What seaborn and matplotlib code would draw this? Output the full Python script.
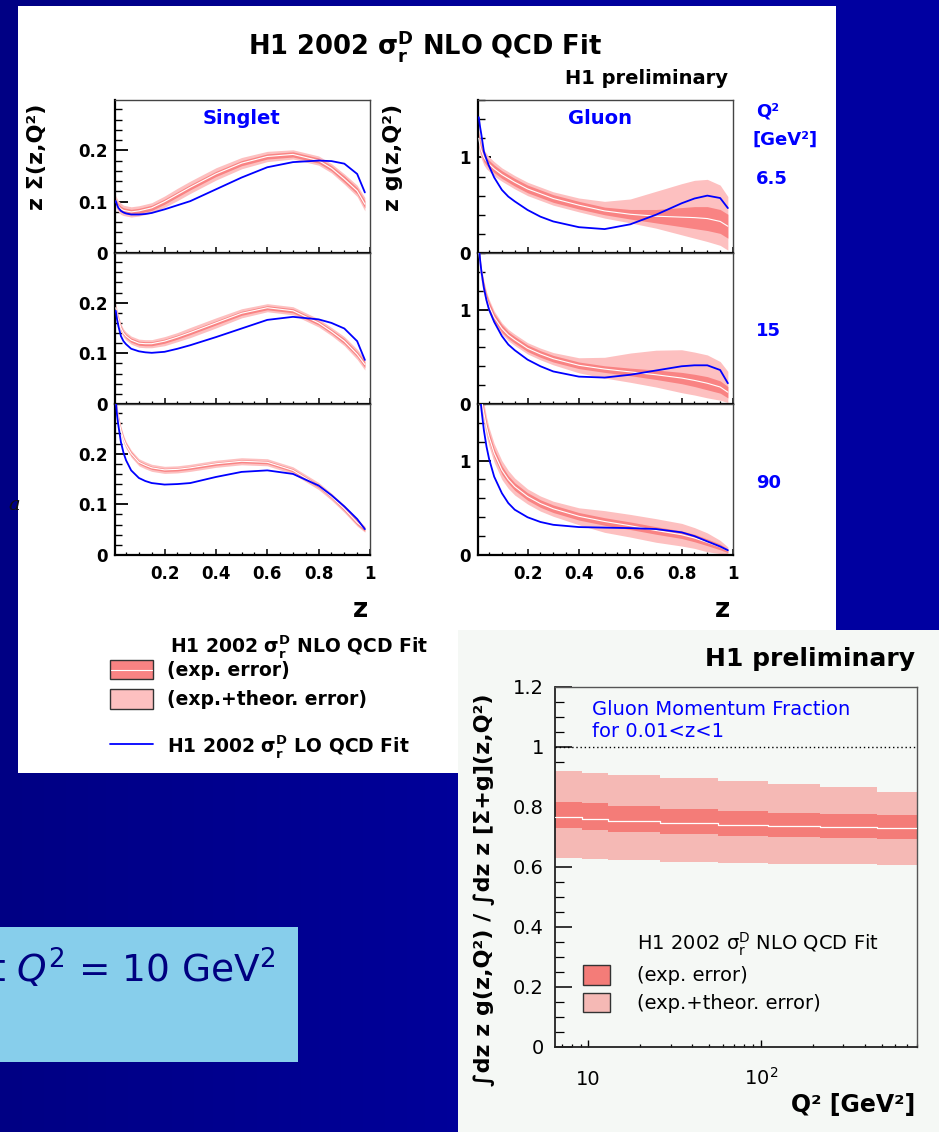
import numpy as np
import matplotlib
matplotlib.use("Agg")
import matplotlib.pyplot as plt
from matplotlib.patches import Rectangle
from matplotlib.lines import Line2D
from matplotlib.colors import LinearSegmentedColormap
from matplotlib.ticker import (MultipleLocator, FixedLocator, FixedFormatter,
                               NullFormatter, LogLocator, FuncFormatter)
import seaborn as sns

sns.set_style("ticks")
plt.rcParams['font.family'] = ['DejaVu Sans']
plt.rcParams['mathtext.fontset'] = 'dejavusans'
plt.rcParams['text.color'] = 'black'
plt.rcParams['axes.labelcolor'] = 'black'
plt.rcParams['xtick.color'] = 'black'
plt.rcParams['ytick.color'] = 'black'
plt.rcParams['axes.edgecolor'] = 'black'

W, H = 939, 1132

# ---------------- data ----------------
Z = [0.01, 0.015, 0.02, 0.03, 0.04, 0.05, 0.07, 0.1, 0.125, 0.15, 0.2, 0.25, 0.3,
     0.4, 0.5, 0.6, 0.7, 0.8, 0.85, 0.9, 0.95, 0.98]
Q2_LABELS = ["6.5", "15", "90"]

# Singlet z*Sigma(z,Q2)
SIG_NLO_6 = [0.101, 0.095, 0.091, 0.086, 0.083, 0.082, 0.080, 0.082, 0.085, 0.088, 0.100, 0.114, 0.128,
             0.154, 0.175, 0.188, 0.192, 0.180, 0.165, 0.144, 0.121, 0.095]
SIG_LO_6 = [0.101, 0.094, 0.088, 0.082, 0.079, 0.077, 0.075, 0.075, 0.076, 0.078, 0.085, 0.093, 0.101,
            0.124, 0.147, 0.167, 0.177, 0.180, 0.179, 0.174, 0.154, 0.118]
SIG_EXP_6 = [0.005, 0.005, 0.005, 0.005, 0.005, 0.005, 0.005, 0.005, 0.005, 0.005, 0.005, 0.005, 0.005,
             0.005, 0.005, 0.005, 0.005, 0.005, 0.005, 0.006, 0.006, 0.007]
SIG_TOT_6 = [0.011, 0.011, 0.011, 0.011, 0.010, 0.010, 0.010, 0.010, 0.010, 0.010, 0.011, 0.012, 0.012,
             0.012, 0.011, 0.010, 0.009, 0.009, 0.009, 0.010, 0.011, 0.013]

SIG_NLO_15 = [0.190, 0.177, 0.167, 0.150, 0.140, 0.134, 0.126, 0.120, 0.119, 0.119, 0.124, 0.132, 0.141,
              0.160, 0.179, 0.190, 0.184, 0.160, 0.143, 0.124, 0.098, 0.078]
SIG_LO_15 = [0.184, 0.167, 0.154, 0.134, 0.124, 0.118, 0.109, 0.104, 0.102, 0.101, 0.103, 0.109, 0.116,
             0.132, 0.149, 0.166, 0.172, 0.167, 0.160, 0.149, 0.124, 0.087]
SIG_EXP_15 = [0.004, 0.004, 0.004, 0.004, 0.004, 0.004, 0.004, 0.004, 0.004, 0.004, 0.004, 0.004, 0.004,
              0.004, 0.004, 0.004, 0.004, 0.004, 0.004, 0.005, 0.005, 0.006]
SIG_TOT_15 = [0.009, 0.009, 0.009, 0.008, 0.008, 0.008, 0.008, 0.008, 0.008, 0.008, 0.009, 0.009, 0.010,
              0.010, 0.009, 0.008, 0.008, 0.008, 0.008, 0.009, 0.010, 0.011]

SIG_NLO_90 = [0.305, 0.285, 0.270, 0.246, 0.229, 0.217, 0.200, 0.183, 0.177, 0.172, 0.168, 0.169, 0.172,
              0.180, 0.185, 0.183, 0.167, 0.136, 0.115, 0.091, 0.064, 0.051]
SIG_LO_90 = [0.305, 0.276, 0.256, 0.223, 0.202, 0.187, 0.167, 0.152, 0.146, 0.142, 0.139, 0.140, 0.142,
             0.154, 0.164, 0.167, 0.160, 0.137, 0.118, 0.096, 0.071, 0.051]
SIG_EXP_90 = [0.004, 0.004, 0.004, 0.004, 0.004, 0.004, 0.004, 0.003, 0.003, 0.003, 0.003, 0.003, 0.003,
              0.003, 0.003, 0.003, 0.003, 0.003, 0.003, 0.004, 0.004, 0.004]
SIG_TOT_90 = [0.008, 0.008, 0.008, 0.008, 0.008, 0.007, 0.007, 0.007, 0.007, 0.007, 0.007, 0.007, 0.007,
              0.007, 0.007, 0.007, 0.007, 0.007, 0.007, 0.007, 0.007, 0.006]

# Gluon z*g(z,Q2)
GLU_NLO_6 = [1.20, 1.12, 1.07, 1.00, 0.96, 0.93, 0.88, 0.82, 0.78, 0.74, 0.67, 0.62, 0.57,
             0.50, 0.44, 0.405, 0.385, 0.375, 0.37, 0.36, 0.33, 0.28]
GLU_LO_6 = [1.42, 1.32, 1.24, 1.06, 0.98, 0.91, 0.79, 0.66, 0.59, 0.54, 0.45, 0.38, 0.33,
            0.27, 0.25, 0.30, 0.40, 0.52, 0.57, 0.60, 0.575, 0.47]
GLU_EXP_6 = [0.05, 0.05, 0.045, 0.045, 0.04, 0.04, 0.04, 0.04, 0.04, 0.04, 0.04, 0.04, 0.04,
             0.04, 0.04, 0.05, 0.07, 0.10, 0.115, 0.125, 0.125, 0.125]
GLU_TOT_UP_6 = [0.09, 0.09, 0.085, 0.08, 0.08, 0.075, 0.075, 0.07, 0.07, 0.07, 0.07, 0.07, 0.07,
                0.075, 0.10, 0.16, 0.26, 0.35, 0.39, 0.41, 0.38, 0.31]
GLU_TOT_DN_6 = [0.09, 0.09, 0.085, 0.08, 0.08, 0.075, 0.075, 0.07, 0.07, 0.07, 0.07, 0.07, 0.07,
                0.07, 0.075, 0.09, 0.125, 0.185, 0.215, 0.24, 0.25, 0.25]

GLU_NLO_15 = [1.62, 1.48, 1.37, 1.23, 1.12, 1.04, 0.92, 0.80, 0.73, 0.68, 0.59, 0.53, 0.48,
              0.41, 0.37, 0.34, 0.31, 0.275, 0.25, 0.22, 0.18, 0.125]
GLU_LO_15 = [1.70, 1.53, 1.41, 1.23, 1.10, 1.00, 0.87, 0.72, 0.63, 0.57, 0.47, 0.40, 0.345,
             0.29, 0.28, 0.31, 0.355, 0.40, 0.41, 0.41, 0.36, 0.22]
GLU_EXP_15 = [0.06, 0.055, 0.05, 0.05, 0.045, 0.045, 0.04, 0.04, 0.035, 0.035, 0.035, 0.035, 0.035,
              0.035, 0.035, 0.04, 0.05, 0.06, 0.065, 0.07, 0.065, 0.06]
GLU_TOT_UP_15 = [0.09, 0.085, 0.08, 0.075, 0.07, 0.07, 0.065, 0.06, 0.06, 0.06, 0.06, 0.062, 0.065,
                 0.08, 0.125, 0.20, 0.26, 0.30, 0.30, 0.30, 0.27, 0.22]
GLU_TOT_DN_15 = [0.09, 0.085, 0.08, 0.075, 0.07, 0.07, 0.065, 0.06, 0.06, 0.06, 0.06, 0.062, 0.065,
                 0.08, 0.095, 0.11, 0.13, 0.155, 0.155, 0.155, 0.14, 0.11]

GLU_NLO_90 = [1.90, 1.75, 1.65, 1.50, 1.36, 1.25, 1.08, 0.90, 0.80, 0.725, 0.62, 0.545, 0.49,
              0.41, 0.355, 0.31, 0.26, 0.215, 0.18, 0.134, 0.085, 0.045]
GLU_LO_90 = [1.90, 1.70, 1.55, 1.32, 1.15, 1.02, 0.83, 0.655, 0.55, 0.48, 0.40, 0.35, 0.32,
             0.296, 0.29, 0.285, 0.275, 0.24, 0.20, 0.144, 0.09, 0.05]
GLU_EXP_90 = [0.06, 0.06, 0.055, 0.05, 0.05, 0.05, 0.045, 0.045, 0.04, 0.04, 0.04, 0.04, 0.04,
              0.04, 0.04, 0.04, 0.04, 0.04, 0.04, 0.035, 0.03, 0.02]
GLU_TOT_UP_90 = [0.12, 0.12, 0.12, 0.11, 0.105, 0.10, 0.10, 0.10, 0.095, 0.09, 0.08, 0.08, 0.08,
                 0.09, 0.115, 0.12, 0.125, 0.12, 0.11, 0.10, 0.07, 0.04]
GLU_TOT_DN_90 = [0.12, 0.12, 0.12, 0.11, 0.105, 0.10, 0.10, 0.10, 0.095, 0.09, 0.08, 0.08, 0.08,
                 0.09, 0.115, 0.12, 0.125, 0.12, 0.11, 0.10, 0.07, 0.04]

# Gluon momentum fraction vs Q2 (histogram bins)
FRAC_Q2_EDGES = [6.4, 9.2, 13, 26, 56, 110, 220, 470, 800]
FRAC_CENTER = [0.766, 0.761, 0.754, 0.748, 0.741, 0.737, 0.732, 0.729]
FRAC_EXP_HI = [0.818, 0.812, 0.803, 0.794, 0.788, 0.781, 0.777, 0.773]
FRAC_EXP_LO = [0.729, 0.723, 0.716, 0.709, 0.703, 0.699, 0.696, 0.692]
FRAC_TOT_HI = [0.921, 0.914, 0.906, 0.897, 0.888, 0.877, 0.866, 0.851]
FRAC_TOT_LO = [0.629, 0.626, 0.622, 0.618, 0.614, 0.611, 0.609, 0.607]

SIG_PANELS = [(SIG_NLO_6, SIG_LO_6, SIG_EXP_6, SIG_TOT_6, SIG_TOT_6),
              (SIG_NLO_15, SIG_LO_15, SIG_EXP_15, SIG_TOT_15, SIG_TOT_15),
              (SIG_NLO_90, SIG_LO_90, SIG_EXP_90, SIG_TOT_90, SIG_TOT_90)]
GLU_PANELS = [(GLU_NLO_6, GLU_LO_6, GLU_EXP_6, GLU_TOT_UP_6, GLU_TOT_DN_6),
              (GLU_NLO_15, GLU_LO_15, GLU_EXP_15, GLU_TOT_UP_15, GLU_TOT_DN_15),
              (GLU_NLO_90, GLU_LO_90, GLU_EXP_90, GLU_TOT_UP_90, GLU_TOT_DN_90)]

# ---------------- styling ----------------
C_EXP = '#F98383'
C_TOT = '#FDC0C0'
C_EXP2 = '#F47C78'
C_TOT2 = '#F5B9B5'
C_LO = '#0000FF'
BLUE_TXT = '#0000FF'

fig = plt.figure(figsize=(W / 100, H / 100), dpi=100)
fig.patch.set_facecolor('#000099')


def frect(x0, y0, x1, y1, **kw):
    return Rectangle((x0 / W, 1 - y1 / H), (x1 - x0) / W, (y1 - y0) / H,
                     transform=fig.transFigure, **kw)


def arect(x0, y0, x1, y1):
    return [x0 / W, 1 - y1 / H, (x1 - x0) / W, (y1 - y0) / H]


def ftxt(x, y, s, **kw):
    return fig.text(x / W, 1 - y / H, s, **kw)


# background slide
bg = fig.add_axes([0, 0, 1, 1], zorder=-10)
bg.imshow(np.linspace(0, 1, 256)[None, :], aspect='auto', extent=[0, 1, 0, 1],
          cmap=LinearSegmentedColormap.from_list('bg', ['#000084', '#00009A', '#0000A2']))
bg.axis('off')

fig.add_artist(frect(18, 6, 836, 773, facecolor='white', edgecolor='none', zorder=0.5))
fig.add_artist(frect(0, 927, 298, 1062, facecolor='#87CEEB', edgecolor='none', zorder=0.5))
fig.add_artist(frect(458, 630, 939, 1132, facecolor='#F5F8F5', edgecolor='none', zorder=5))

ftxt(276, 983, r"t $Q^2$ = 10 GeV$^2$", ha='right', va='baseline', fontsize=27,
     color='#000080', zorder=1)
ftxt(14, 505, "a", ha='center', va='center', fontsize=14, style='italic',
     family='DejaVu Serif', color='#111111', zorder=1)

# ---------------- panel 1: PDFs ----------------
rows = [(100, 253), (253, 404), (404, 555)]
cols = [(115, 370), (478, 733)]


def style_pdf_axes(ax, kind, bottom):
    ax.set_facecolor('white')
    ax.set_xlim(0.007, 1.0)
    if kind == 'sig':
        ax.set_ylim(0, 0.298)
        ax.yaxis.set_major_locator(FixedLocator([0, 0.1, 0.2]))
        ax.yaxis.set_major_formatter(FixedFormatter(['0', '0.1', '0.2']))
        ax.yaxis.set_minor_locator(MultipleLocator(0.02))
    else:
        ax.set_ylim(0, 1.6)
        ax.yaxis.set_major_locator(FixedLocator([0, 1]))
        ax.yaxis.set_major_formatter(FixedFormatter(['0', '1']))
        ax.yaxis.set_minor_locator(MultipleLocator(0.2))
    ax.xaxis.set_major_locator(FixedLocator([0.2, 0.4, 0.6, 0.8, 1.0]))
    ax.xaxis.set_major_formatter(FixedFormatter(['0.2', '0.4', '0.6', '0.8', '1']))
    ax.xaxis.set_minor_locator(MultipleLocator(0.05))
    ax.set_xlabel('')
    ax.set_ylabel('')
    ax.tick_params(axis='y', which='major', direction='in', length=9.5, width=1.3,
                   left=True, right=False, pad=5.5, labelsize=12)
    ax.tick_params(axis='y', which='minor', direction='in', length=5, width=1.0,
                   left=True, right=False)
    ax.tick_params(axis='x', which='major', direction='in', length=4.5, width=1.1,
                   bottom=True, top=False, pad=7, labelsize=12, labelbottom=bottom)
    ax.tick_params(axis='x', which='minor', direction='in', length=2.5, width=0.9,
                   bottom=True, top=False)
    for lab in ax.get_xticklabels() + ax.get_yticklabels():
        lab.set_fontweight('bold')
    for s in ['left', 'bottom']:
        ax.spines[s].set_linewidth(1.6)
        ax.spines[s].set_color('black')
    for s in ['top', 'right']:
        ax.spines[s].set_linewidth(1.0)
        ax.spines[s].set_color('#444444')


for ci, (panels, kind) in enumerate([(SIG_PANELS, 'sig'), (GLU_PANELS, 'glu')]):
    x0, x1 = cols[ci]
    for ri, (nlo, lo, exp_hw, tot_up, tot_dn) in enumerate(panels):
        y0, y1 = rows[ri]
        ax = fig.add_axes(arect(x0, y0, x1, y1), zorder=2)
        nlo_a = np.array(nlo)
        ax.fill_between(Z, nlo_a - np.array(tot_dn), nlo_a + np.array(tot_up),
                        color=C_TOT, lw=0, zorder=1)
        ax.fill_between(Z, nlo_a - np.array(exp_hw), nlo_a + np.array(exp_hw),
                        color=C_EXP, lw=0, zorder=2)
        sns.lineplot(x=Z, y=nlo, ax=ax, color='white', lw=0.8, estimator=None,
                     sort=False, legend=False, zorder=3)
        sns.lineplot(x=Z, y=lo, ax=ax, color=C_LO, lw=1.3, estimator=None,
                     sort=False, legend=False, zorder=4)
        style_pdf_axes(ax, kind, bottom=(ri == 2))

# panel 1 texts
ftxt(425, 55, r"H1 2002 $\mathregular{\sigma_r^D}$ NLO QCD Fit", ha='center',
     va='baseline', fontsize=18.5, fontweight='bold', zorder=3)
ftxt(728, 84, "H1 preliminary", ha='right', va='baseline', fontsize=14,
     fontweight='bold', zorder=3)
ftxt(242, 124, "Singlet", ha='center', va='baseline', fontsize=14,
     fontweight='bold', color=BLUE_TXT, zorder=3)
ftxt(600, 124, "Gluon", ha='center', va='baseline', fontsize=14,
     fontweight='bold', color=BLUE_TXT, zorder=3)
ftxt(37, 157, "z Σ(z,Q²)", ha='center', va='center', rotation=90, fontsize=16,
     fontweight='bold', zorder=3)
ftxt(393, 157, "z g(z,Q²)", ha='center', va='center', rotation=90, fontsize=16,
     fontweight='bold', zorder=3)
ftxt(756, 116, "Q²", ha='left', va='baseline', fontsize=13, fontweight='bold',
     color=BLUE_TXT, zorder=3)
ftxt(753, 145, "[GeV²]", ha='left', va='baseline', fontsize=13, fontweight='bold',
     color=BLUE_TXT, zorder=3)
for lab, yb in zip(Q2_LABELS, [184, 336, 488]):
    ftxt(756, yb, lab, ha='left', va='baseline', fontsize=13, fontweight='bold',
         color=BLUE_TXT, zorder=3)
ftxt(360, 617, "z", ha='center', va='baseline', fontsize=19, fontweight='bold', zorder=3)
ftxt(723, 617, "z", ha='center', va='baseline', fontsize=19, fontweight='bold', zorder=3)

# panel 1 legend
ftxt(170, 652, r"H1 2002 $\mathregular{\sigma_r^D}$ NLO QCD Fit", ha='left',
     va='baseline', fontsize=13.5, fontweight='bold', zorder=3)
fig.add_artist(frect(110, 660, 153, 679, facecolor=C_EXP, edgecolor='#333333',
                     lw=1.0, zorder=3))
fig.add_artist(Line2D([111 / W, 152 / W], [1 - 669.5 / H, 1 - 669.5 / H],
                      transform=fig.transFigure, color='white', lw=0.8, zorder=3.1))
fig.add_artist(frect(110, 689, 153, 709, facecolor=C_TOT, edgecolor='#333333',
                     lw=1.0, zorder=3))
ftxt(167, 676, "(exp. error)", ha='left', va='baseline', fontsize=13.5,
     fontweight='bold', zorder=3)
ftxt(167, 705, "(exp.+theor. error)", ha='left', va='baseline', fontsize=13.5,
     fontweight='bold', zorder=3)
fig.add_artist(Line2D([110 / W, 153 / W], [1 - 744 / H, 1 - 744 / H],
                      transform=fig.transFigure, color=C_LO, lw=1.3, zorder=3))
ftxt(167, 753, r"H1 2002 $\mathregular{\sigma_r^D}$ LO QCD Fit", ha='left',
     va='baseline', fontsize=13.5, fontweight='bold', zorder=3)

# ---------------- panel 2: gluon momentum fraction ----------------
ax2 = fig.add_axes(arect(555, 687, 917, 1047), zorder=6)
ax2.set_facecolor('#F5F8F5')
ax2.set_xscale('log')
edges = FRAC_Q2_EDGES


def ext(v):
    return list(v) + [v[-1]]


ax2.fill_between(edges, ext(FRAC_TOT_LO), ext(FRAC_TOT_HI), step='post',
                 color=C_TOT2, lw=0, zorder=1)
ax2.fill_between(edges, ext(FRAC_EXP_LO), ext(FRAC_EXP_HI), step='post',
                 color=C_EXP2, lw=0, zorder=2)
sns.lineplot(x=edges, y=ext(FRAC_CENTER), ax=ax2, color='white', lw=0.9,
             drawstyle='steps-post', estimator=None, sort=False, legend=False, zorder=3)
ax2.axhline(1.0, color='black', lw=1.0, ls=(0, (1, 2)), zorder=4)
ax2.set_xlim(6.4, 800)
ax2.set_ylim(0, 1.2)
ax2.set_xlabel('')
ax2.set_ylabel('')
ax2.yaxis.set_major_locator(MultipleLocator(0.2))
ax2.yaxis.set_minor_locator(MultipleLocator(0.05))
ax2.yaxis.set_major_formatter(FuncFormatter(
    lambda v, _: '0' if abs(v) < 1e-9 else ('1' if abs(v - 1) < 1e-9 else f'{v:.1f}')))
ax2.xaxis.set_major_locator(LogLocator(base=10, numticks=10))
ax2.xaxis.set_minor_locator(LogLocator(base=10, subs=np.arange(2, 10), numticks=20))
ax2.xaxis.set_major_formatter(NullFormatter())
ax2.xaxis.set_minor_formatter(NullFormatter())
ax2.tick_params(axis='y', which='major', direction='in', length=12, width=1.1,
                left=True, right=False, pad=8, labelsize=14)
ax2.tick_params(axis='y', which='minor', direction='in', length=6.5, width=0.9,
                left=True, right=False)
ax2.tick_params(axis='x', which='major', direction='in', length=5, width=1.0,
                bottom=True, top=False)
ax2.tick_params(axis='x', which='minor', direction='in', length=2.5, width=0.9,
                bottom=True, top=False)
for s in ['left', 'bottom']:
    ax2.spines[s].set_linewidth(1.3)
    ax2.spines[s].set_color('#222222')
for s in ['top', 'right']:
    ax2.spines[s].set_linewidth(1.0)
    ax2.spines[s].set_color('#555555')

ylab_y = (1047 - 1085) / 360
ax2.text(10, ylab_y, "10", transform=ax2.get_xaxis_transform(), ha='center',
         va='baseline', fontsize=14)
ax2.text(100, ylab_y, r"$\mathregular{10^{2}}$", transform=ax2.get_xaxis_transform(),
         ha='center', va='baseline', fontsize=14)

ftxt(915, 666, "H1 preliminary", ha='right', va='baseline', fontsize=18,
     fontweight='bold', zorder=7)
ftxt(592, 715, "Gluon Momentum Fraction", ha='left', va='baseline', fontsize=14,
     color=BLUE_TXT, zorder=7)
ftxt(592, 737, "for 0.01<z<1", ha='left', va='baseline', fontsize=14,
     color=BLUE_TXT, zorder=7)
ftxt(484, 890, "∫dz z g(z,Q²) / ∫dz z [Σ+g](z,Q²)", ha='center', va='center',
     rotation=90, fontsize=16, fontweight='bold', zorder=7)
ftxt(915, 1112, "Q² [GeV²]", ha='right', va='baseline', fontsize=17,
     fontweight='bold', zorder=7)

ftxt(637, 950, r"H1 2002 $\mathregular{\sigma_r^D}$ NLO QCD Fit", ha='left',
     va='baseline', fontsize=14, zorder=7)
fig.add_artist(frect(583, 965, 610, 985, facecolor=C_EXP2, edgecolor='#333333',
                     lw=1.0, zorder=7))
fig.add_artist(frect(583, 993, 610, 1012, facecolor=C_TOT2, edgecolor='#333333',
                     lw=1.0, zorder=7))
ftxt(637, 981, "(exp. error)", ha='left', va='baseline', fontsize=14, zorder=7)
ftxt(637, 1009, "(exp.+theor. error)", ha='left', va='baseline', fontsize=14, zorder=7)

fig.savefig("out.png", dpi=100, facecolor=fig.get_facecolor())
